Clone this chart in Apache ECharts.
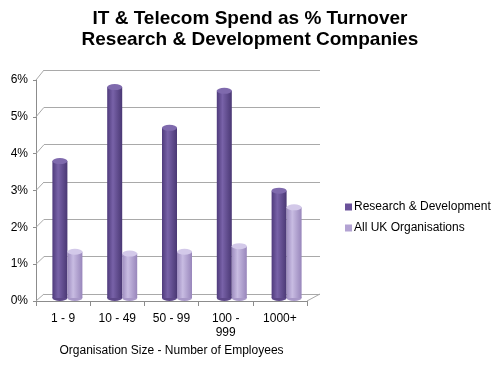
<!DOCTYPE html>
<html>
<head>
<meta charset="utf-8">
<script src="https://cdn.jsdelivr.net/npm/echarts@6/dist/echarts.min.js"></script>
<style>
html,body{margin:0;padding:0;background:#fff;}
#chart{width:500px;height:372px;}
</style>
</head>
<body>
<div id="chart"></div>
<script>
const categories = ['1 - 9', '10 - 49', '50 - 99', '100 -\n999', '1000+'];
const seriesNames = ['Research & Development', 'All UK Organisations'];
const rdValues = [3.7, 5.7, 4.6, 5.6, 2.9];
const ukValues = [1.25, 1.2, 1.25, 1.4, 2.45];
const yTicks = [0, 1, 2, 3, 4, 5, 6];

const FONT = 'Liberation Sans, Arial, sans-serif';
const W = 500;
const frontGrid = {left: 36, right: 193, top: 80, bottom: 71};
const backGrid = {left: 44, right: 180, top: 70, bottom: 78};
const barGrid = {left: 40, right: 186, top: 76, bottom: 74};

const chart = echarts.init(document.getElementById('chart'), null, {renderer: 'canvas'});

function cyl(c0, c1, c2) {
  return new echarts.graphic.LinearGradient(0, 0, 1, 0, [
    {offset: 0, color: c0}, {offset: 0.38, color: c1}, {offset: 1, color: c2}
  ]);
}
const darkFill = cyl('#4f3b7c', '#7862a8', '#4a3874');
const lightFill = cyl('#9d8cbf', '#c8bce2', '#9886bb');

const yMin = yTicks[0], yMax = yTicks[yTicks.length - 1];

chart.setOption({
  animation: false,
  backgroundColor: '#fff',
  title: {
    text: 'IT & Telecom Spend as % Turnover\nResearch & Development Companies',
    left: 'center', top: 8, padding: 0,
    textStyle: {fontFamily: FONT, fontSize: 19, fontWeight: 'bold', color: '#000', lineHeight: 21}
  },
  legend: {
    orient: 'vertical', left: 340, top: 196,
    itemWidth: 7, itemHeight: 7, itemGap: 9,
    icon: 'rect',
    textStyle: {fontFamily: FONT, fontSize: 12, color: '#000', padding: [0, 0, 0, -3]},
    data: [
      {name: seriesNames[0], itemStyle: {color: '#6a519a'}},
      {name: seriesNames[1], itemStyle: {color: '#b3a3d3'}}
    ]
  },
  grid: [frontGrid, backGrid, barGrid],
  xAxis: [
    {
      gridIndex: 0, type: 'category', data: categories, boundaryGap: true,
      axisLine: {lineStyle: {color: '#8c8c8c'}},
      axisTick: {show: true, alignWithLabel: false, length: 5, lineStyle: {color: '#8c8c8c'}},
      axisLabel: {fontFamily: FONT, fontSize: 12, color: '#000', margin: 11, lineHeight: 14, interval: 0},
      name: 'Organisation Size - Number of Employees',
      nameLocation: 'middle', nameGap: 43,
      nameTextStyle: {fontFamily: FONT, fontSize: 12, color: '#000'}
    },
    {gridIndex: 1, type: 'category', data: categories, show: false},
    {gridIndex: 2, type: 'category', data: categories, show: false},
    {gridIndex: 2, type: 'category', data: categories, show: false}
  ],
  yAxis: [
    {
      gridIndex: 0, type: 'value', min: yMin, max: yMax, interval: 1,
      axisLine: {show: true, lineStyle: {color: '#8c8c8c'}},
      axisTick: {show: true, length: 3, lineStyle: {color: '#8c8c8c'}},
      splitLine: {show: false},
      axisLabel: {fontFamily: FONT, fontSize: 12, color: '#000', margin: 8, formatter: '{value}%'}
    },
    {
      gridIndex: 1, type: 'value', min: yMin, max: yMax, interval: 1,
      axisLine: {show: false}, axisTick: {show: false}, axisLabel: {show: false},
      splitLine: {show: true, lineStyle: {color: '#a9a9a9', width: 1}}
    },
    {
      gridIndex: 2, type: 'value', min: yMin, max: yMax, interval: 1, show: false,
      splitLine: {show: false}
    }
  ],
  series: [
    {
      name: seriesNames[0], type: 'bar', xAxisIndex: 2, yAxisIndex: 2,
      data: rdValues, barWidth: 15, barGap: '0%', z: 3,
      itemStyle: {color: darkFill}
    },
    {
      name: seriesNames[1], type: 'bar', xAxisIndex: 2, yAxisIndex: 2,
      data: ukValues, barWidth: 15, barGap: '0%', z: 3,
      itemStyle: {color: lightFill}
    },
    {
      name: 'rdTop', type: 'pictorialBar', xAxisIndex: 2, yAxisIndex: 2,
      data: rdValues, symbol: 'circle', symbolSize: [15, 6],
      symbolPosition: 'end', symbolOffset: [0, '-50%'],
      barWidth: 15, barGap: '0%', z: 5,
      itemStyle: {color: '#7f6aad'}
    },
    {
      name: 'ukTop', type: 'pictorialBar', xAxisIndex: 2, yAxisIndex: 2,
      data: ukValues, symbol: 'circle', symbolSize: [15, 6],
      symbolPosition: 'end', symbolOffset: [0, '-50%'],
      barWidth: 15, barGap: '0%', z: 5,
      itemStyle: {color: '#d3c9e9'}
    },
    {
      name: 'rdBottom', type: 'pictorialBar', xAxisIndex: 3, yAxisIndex: 2,
      data: rdValues, symbol: 'circle', symbolSize: [15, 6],
      symbolPosition: 'start', symbolOffset: [0, '50%'],
      barWidth: 15, barGap: '0%', z: 2,
      itemStyle: {color: '#5d4889'}
    },
    {
      name: 'ukBottom', type: 'pictorialBar', xAxisIndex: 3, yAxisIndex: 2,
      data: ukValues, symbol: 'circle', symbolSize: [15, 6],
      symbolPosition: 'start', symbolOffset: [0, '50%'],
      barWidth: 15, barGap: '0%', z: 2,
      itemStyle: {color: '#a898c8'}
    }
  ]
});

// Side-wall and floor perspective edges, from the front axis to the back wall
const edgeStyle = {stroke: '#a9a9a9', lineWidth: 1};
const edges = [];
yTicks.forEach(function (v) {
  const yF = chart.convertToPixel({yAxisIndex: 0}, v);
  const yB = chart.convertToPixel({yAxisIndex: 1}, v);
  edges.push({
    type: 'line', silent: true, z: 1,
    shape: {x1: frontGrid.left, y1: yF, x2: backGrid.left, y2: yB},
    style: edgeStyle
  });
});
const yF0 = chart.convertToPixel({yAxisIndex: 0}, yMin);
const yB0 = chart.convertToPixel({yAxisIndex: 1}, yMin);
edges.push({
  type: 'line', silent: true, z: 1,
  shape: {x1: W - frontGrid.right, y1: yF0, x2: W - backGrid.right, y2: yB0},
  style: edgeStyle
});
chart.setOption({graphic: edges});
</script>
</body>
</html>
